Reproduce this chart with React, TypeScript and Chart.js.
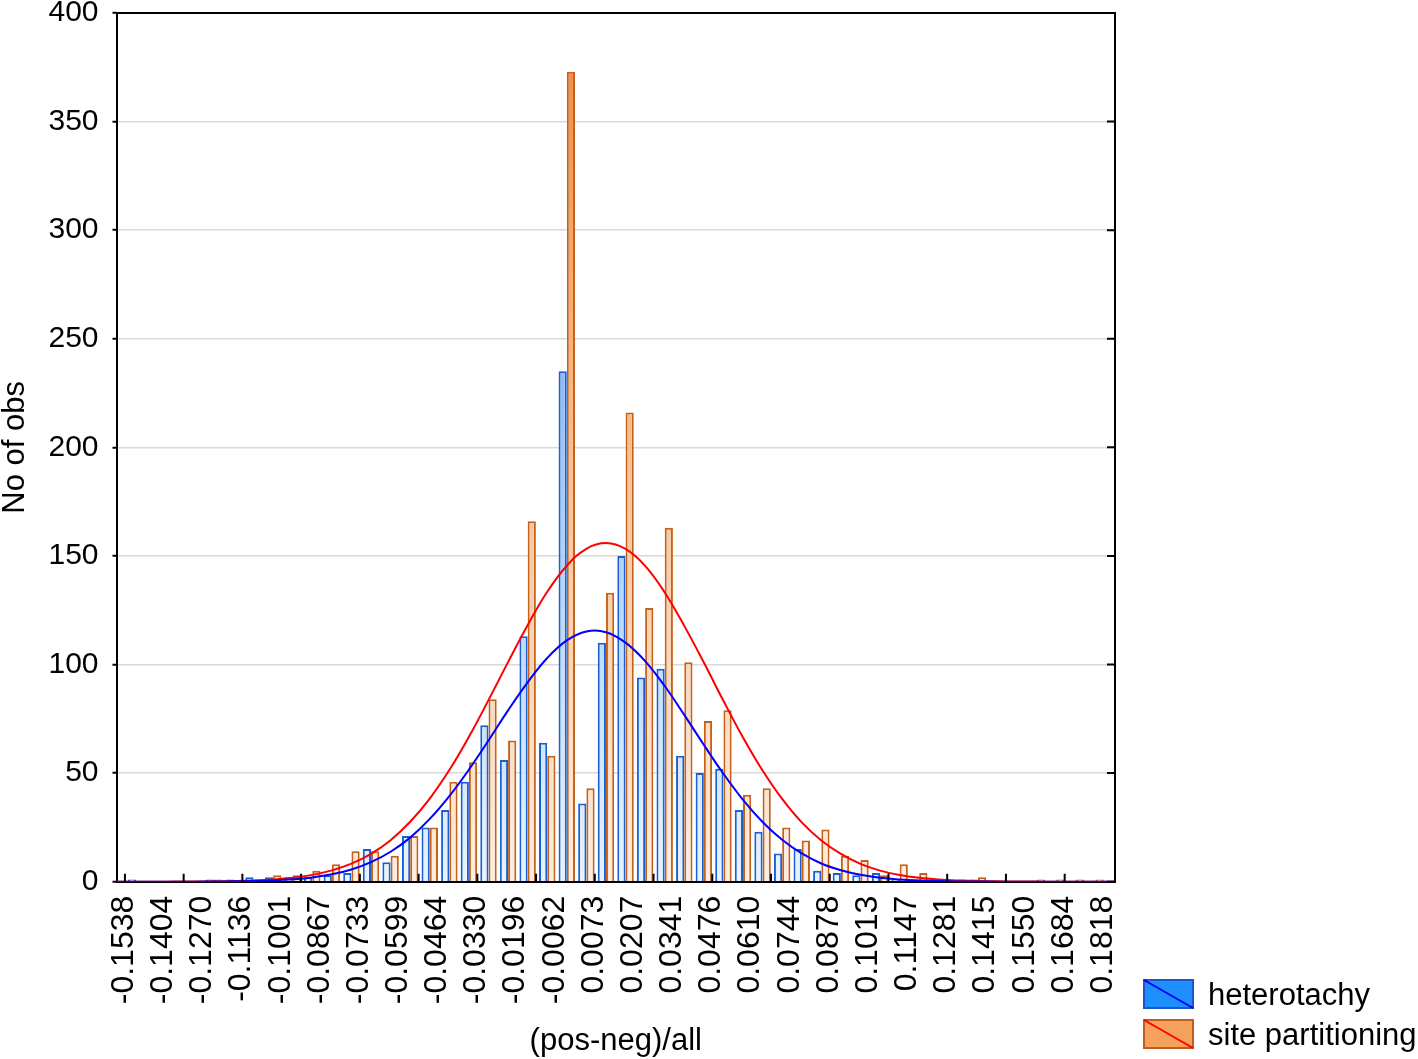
import React, { useEffect, useRef } from 'react';
import { Chart, registerables } from 'chart.js';

Chart.register(...registerables);

// x-axis tick labels (bin boundaries, every second bin)
const tickLabels = [
  '-0.1538', '-0.1404', '-0.1270', '-0.1136', '-0.1001', '-0.0867', '-0.0733', '-0.0599', '-0.0464',
  '-0.0330', '-0.0196', '-0.0062', '0.0073', '0.0207', '0.0341', '0.0476', '0.0610', '0.0744',
  '0.0878', '0.1013', '0.1147', '0.1281', '0.1415', '0.1550', '0.1684', '0.1818',
];

// one padding bin on each side, then 50 histogram bins
const heterotachy = [
  0,
  1, 0, 0, 0, 1, 1, 2, 2, 2, 2,
  3, 4, 15, 9, 21, 25, 33, 46, 72, 56,
  113, 64, 235, 36, 110, 150, 94, 98, 58, 50,
  52, 33, 23, 13, 15, 5, 4, 3, 4, 1,
  1, 0, 0, 1, 0, 0, 0, 0, 0, 0,
  0,
];

const sitePartitioning = [
  0,
  0, 0, 0, 0, 1, 0, 1, 3, 3, 5,
  8, 14, 14, 12, 21, 25, 46, 55, 84, 65,
  166, 58, 373, 43, 133, 216, 126, 163, 101, 74,
  79, 40, 43, 25, 19, 24, 12, 10, 3, 8,
  4, 0, 1, 2, 0, 0, 1, 1, 1, 1,
  0,
];

// fitted normal curves, read at each bin position
const heterotachyFit = [
  0,
  0.003, 0.006, 0.015, 0.03, 0.07, 0.15, 0.31, 0.59, 1.1, 1.97,
  3.4, 5.65, 9.0, 13.8, 20.3, 28.9, 39.4, 51.6, 65.0, 78.9,
  91.8, 103.0, 111.1, 115.2, 114.9, 110.1, 101.6, 90.1, 76.8, 63.0,
  49.7, 37.7, 27.5, 19.3, 13.0, 8.4, 5.3, 3.2, 1.82, 1.01,
  0.54, 0.28, 0.14, 0.06, 0.03, 0.01, 0, 0, 0, 0,
  0,
];

const sitePartitioningFit = [
  0.003,
  0.007, 0.016, 0.035, 0.074, 0.15, 0.3, 0.56, 1.04, 1.84, 3.15,
  5.2, 8.3, 12.8, 19.1, 27.6, 38.3, 51.4, 66.7, 83.6, 101.1,
  118.1, 133.5, 145.5, 153.3, 155.9, 153.2, 145.4, 133.2, 117.8, 100.9,
  83.3, 66.4, 51.2, 38.1, 27.3, 19.0, 12.8, 8.2, 5.1, 3.1,
  1.81, 1.02, 0.56, 0.29, 0.15, 0.07, 0.035, 0.016, 0.007, 0.003,
  0.001,
];

const binLabels = tickLabels.flatMap((l) => ['', l]);

const seriesNames = ['heterotachy', 'site partitioning'];

const FONT = "'Liberation Sans', Arial, sans-serif";

export default function App() {
  const ref = useRef<HTMLCanvasElement>(null);

  useEffect(() => {
    const canvas = ref.current;
    if (!canvas) return;

    const makeGrad = (stops: string[]) => (ctx: any) => {
      const chart = ctx.chart;
      const a = chart.chartArea;
      if (!a) return stops[1];
      const g = chart.ctx.createLinearGradient(0, a.top, 0, a.bottom);
      g.addColorStop(0, stops[0]);
      g.addColorStop(0.55, stops[1]);
      g.addColorStop(1, stops[2]);
      return g;
    };

    const framePlugin = {
      id: 'frame',
      afterDraw(chart: any) {
        const { ctx, chartArea: a, scales } = chart;
        ctx.save();
        ctx.strokeStyle = '#000';
        ctx.lineWidth = 2;
        ctx.beginPath();
        ctx.moveTo(a.left, a.top);
        ctx.lineTo(a.right, a.top);
        ctx.lineTo(a.right, a.bottom);
        const ys = scales.y;
        ys.ticks.forEach((t: any) => {
          const py = ys.getPixelForValue(t.value);
          ctx.moveTo(a.right - 8, py);
          ctx.lineTo(a.right, py);
        });
        const xs = scales.x;
        const step = xs.getPixelForValue(1) - xs.getPixelForValue(0);
        for (let k = 0; k <= 16; k++) {
          const px = xs.getPixelForValue(0) + (0.43 + 3 * k) * step;
          ctx.moveTo(px, a.bottom);
          ctx.lineTo(px, a.bottom - 8);
        }
        ctx.stroke();

        // legend
        const items = [
          { label: seriesNames[0], fill: '#1e8fff', stroke: '#1d56c8', diag: '#0000ff', y: 980, base: 1005 },
          { label: seriesNames[1], fill: '#f6a15b', stroke: '#bf5f1f', diag: '#ff0000', y: 1020, base: 1045 },
        ];
        items.forEach((it) => {
          const bx = 1144, bw = 49, bh = 28;
          ctx.fillStyle = it.fill;
          ctx.fillRect(bx, it.y, bw, bh);
          ctx.lineWidth = 2;
          ctx.strokeStyle = it.stroke;
          ctx.strokeRect(bx, it.y, bw, bh);
          ctx.strokeStyle = it.diag;
          ctx.beginPath();
          ctx.moveTo(bx, it.y);
          ctx.lineTo(bx + bw, it.y + bh);
          ctx.stroke();
          ctx.fillStyle = '#000';
          ctx.font = `31px ${FONT}`;
          ctx.textAlign = 'left';
          ctx.textBaseline = 'alphabetic';
          ctx.fillText(it.label, 1208, it.base);
        });
        ctx.restore();
      },
    };

    const chart = new Chart(canvas, {
      type: 'bar',
      data: {
        labels: binLabels,
        datasets: [
          {
            type: 'line',
            label: seriesNames[0] + ' fit',
            data: heterotachyFit,
            borderColor: '#0000ff',
            borderWidth: 2,
            pointRadius: 0,
            tension: 0.4,
            fill: false,
            order: 0,
          } as any,
          {
            type: 'line',
            label: seriesNames[1] + ' fit',
            data: sitePartitioningFit,
            borderColor: '#ff0000',
            borderWidth: 2,
            pointRadius: 0,
            tension: 0.4,
            fill: false,
            order: 0,
          } as any,
          {
            type: 'bar',
            label: seriesNames[0],
            data: heterotachy,
            backgroundColor: makeGrad(['#3a8ef0', '#a3cdf6', '#e8f3fd']),
            borderColor: '#1a5fd4',
            borderWidth: 2,
            categoryPercentage: 0.84,
            barPercentage: 1,
            order: 2,
          } as any,
          {
            type: 'bar',
            label: seriesNames[1],
            data: sitePartitioning,
            backgroundColor: makeGrad(['#f08a3e', '#f8c499', '#fdeee2']),
            borderColor: '#c4621c',
            borderWidth: 2,
            categoryPercentage: 0.84,
            barPercentage: 1,
            order: 2,
          } as any,
        ],
      },
      options: {
        responsive: false,
        animation: false,
        devicePixelRatio: 1,
        layout: { padding: { left: 0, right: 303, top: 13, bottom: 0 } },
        plugins: {
          legend: { display: false },
          tooltip: { enabled: false },
        },
        scales: {
          x: {
            type: 'category',
            offset: false,
            ticks: {
              autoSkip: false,
              maxRotation: 90,
              minRotation: 90,
              color: '#000',
              font: { family: FONT, size: 32, lineHeight: 1 },
              padding: 14,
              labelOffset: -12,
            },
            grid: { display: false, drawTicks: false },
            border: { display: true, color: '#000', width: 2 },
            title: {
              display: true,
              text: '(pos-neg)/all',
              color: '#000',
              font: { family: FONT, size: 31, lineHeight: 1 },
              padding: { top: 0, bottom: 2 },
            },
            afterFit: (s: any) => {
              s.height = 177.3;
              s.paddingLeft = 0;
              s.paddingRight = 0;
            },
          } as any,
          y: {
            min: 0,
            max: 400,
            ticks: {
              stepSize: 50,
              color: '#000',
              font: { family: FONT, size: 30, lineHeight: 1 },
              padding: 14,
            },
            grid: { color: '#d9d9d9', lineWidth: 1.5, tickLength: 4, tickColor: '#000', tickWidth: 2 },
            border: { display: true, color: '#000', width: 2 },
            title: {
              display: true,
              text: 'No of obs',
              color: '#000',
              font: { family: FONT, size: 31, lineHeight: 1 },
              padding: { top: 0, bottom: 0 },
            },
            afterFit: (s: any) => {
              s.width = 116.5;
              s.paddingTop = 0;
              s.paddingBottom = 0;
            },
          } as any,
        },
      },
      plugins: [framePlugin],
    });

    return () => chart.destroy();
  }, []);

  return (
    <div style={{ position: 'absolute', left: 0, top: 0, width: 1418, height: 1059, background: '#fff' }}>
      <canvas ref={ref} width={1418} height={1059} style={{ width: 1418, height: 1059, display: 'block' }} />
    </div>
  );
}
